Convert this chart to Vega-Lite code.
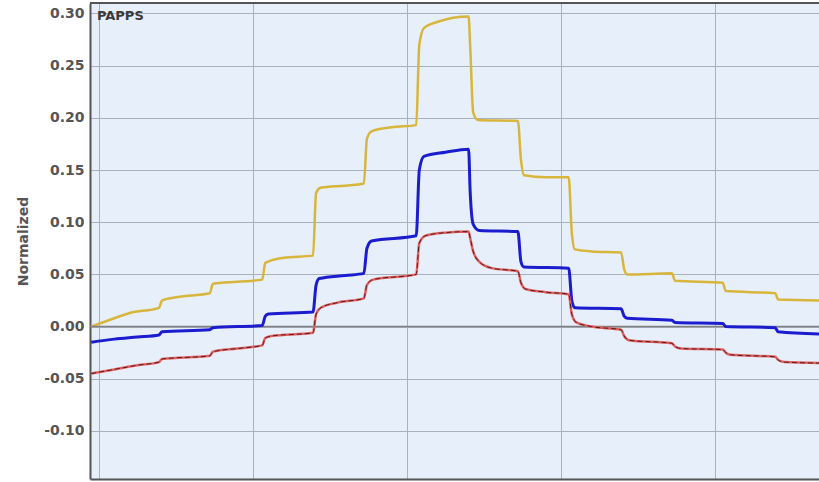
{
  "$schema": "https://vega.github.io/schema/vega-lite/v6.json",
  "autosize": "none",
  "width": 729,
  "height": 476,
  "padding": {"left": 90, "top": 3, "right": 0, "bottom": 3},
  "background": "white",
  "config": {
    "view": {"fill": "#e7effb", "stroke": null},
    "font": "DejaVu Sans"
  },
  "datasets": {
    "series": [
      {"s": "Y", "x": -5, "v": 0.0},
      {"s": "Y", "x": 10, "v": 0.008},
      {"s": "Y", "x": 20, "v": 0.013},
      {"s": "Y", "x": 39, "v": 0.018},
      {"s": "Y", "x": 41, "v": 0.025},
      {"s": "Y", "x": 55, "v": 0.029},
      {"s": "Y", "x": 72, "v": 0.032},
      {"s": "Y", "x": 74, "v": 0.041},
      {"s": "Y", "x": 90, "v": 0.043},
      {"s": "Y", "x": 106, "v": 0.045},
      {"s": "Y", "x": 108, "v": 0.061},
      {"s": "Y", "x": 120, "v": 0.066},
      {"s": "Y", "x": 139, "v": 0.068},
      {"s": "Y", "x": 141, "v": 0.128},
      {"s": "Y", "x": 144, "v": 0.133},
      {"s": "Y", "x": 160, "v": 0.135},
      {"s": "Y", "x": 172, "v": 0.137},
      {"s": "Y", "x": 174, "v": 0.18},
      {"s": "Y", "x": 177, "v": 0.187},
      {"s": "Y", "x": 190, "v": 0.191},
      {"s": "Y", "x": 206, "v": 0.193},
      {"s": "Y", "x": 208, "v": 0.27},
      {"s": "Y", "x": 211, "v": 0.286},
      {"s": "Y", "x": 220, "v": 0.292},
      {"s": "Y", "x": 240, "v": 0.297},
      {"s": "Y", "x": 241, "v": 0.27},
      {"s": "Y", "x": 243, "v": 0.205},
      {"s": "Y", "x": 246, "v": 0.198},
      {"s": "Y", "x": 272, "v": 0.197},
      {"s": "Y", "x": 274, "v": 0.16},
      {"s": "Y", "x": 276, "v": 0.145},
      {"s": "Y", "x": 290, "v": 0.143},
      {"s": "Y", "x": 305, "v": 0.143},
      {"s": "Y", "x": 307, "v": 0.09},
      {"s": "Y", "x": 309, "v": 0.074},
      {"s": "Y", "x": 320, "v": 0.072},
      {"s": "Y", "x": 339, "v": 0.071},
      {"s": "Y", "x": 341, "v": 0.055},
      {"s": "Y", "x": 343, "v": 0.05},
      {"s": "Y", "x": 372, "v": 0.051},
      {"s": "Y", "x": 374, "v": 0.044},
      {"s": "Y", "x": 405, "v": 0.042},
      {"s": "Y", "x": 407, "v": 0.034},
      {"s": "Y", "x": 439, "v": 0.032},
      {"s": "Y", "x": 441, "v": 0.026},
      {"s": "Y", "x": 468, "v": 0.025},

      {"s": "B", "x": -5, "v": -0.015},
      {"s": "B", "x": 10, "v": -0.012},
      {"s": "B", "x": 25, "v": -0.01},
      {"s": "B", "x": 39, "v": -0.008},
      {"s": "B", "x": 41, "v": -0.005},
      {"s": "B", "x": 72, "v": -0.003},
      {"s": "B", "x": 74, "v": -0.001},
      {"s": "B", "x": 106, "v": 0.001},
      {"s": "B", "x": 108, "v": 0.01},
      {"s": "B", "x": 110, "v": 0.012},
      {"s": "B", "x": 139, "v": 0.014},
      {"s": "B", "x": 141, "v": 0.04},
      {"s": "B", "x": 143, "v": 0.046},
      {"s": "B", "x": 160, "v": 0.049},
      {"s": "B", "x": 172, "v": 0.051},
      {"s": "B", "x": 174, "v": 0.075},
      {"s": "B", "x": 177, "v": 0.082},
      {"s": "B", "x": 206, "v": 0.087},
      {"s": "B", "x": 208, "v": 0.15},
      {"s": "B", "x": 211, "v": 0.163},
      {"s": "B", "x": 225, "v": 0.167},
      {"s": "B", "x": 240, "v": 0.17},
      {"s": "B", "x": 241, "v": 0.13},
      {"s": "B", "x": 243, "v": 0.098},
      {"s": "B", "x": 247, "v": 0.092},
      {"s": "B", "x": 272, "v": 0.091},
      {"s": "B", "x": 274, "v": 0.062},
      {"s": "B", "x": 276, "v": 0.057},
      {"s": "B", "x": 305, "v": 0.056},
      {"s": "B", "x": 307, "v": 0.025},
      {"s": "B", "x": 309, "v": 0.018},
      {"s": "B", "x": 339, "v": 0.017},
      {"s": "B", "x": 341, "v": 0.01},
      {"s": "B", "x": 343, "v": 0.008},
      {"s": "B", "x": 372, "v": 0.006},
      {"s": "B", "x": 374, "v": 0.004},
      {"s": "B", "x": 405, "v": 0.003},
      {"s": "B", "x": 407, "v": 0.0},
      {"s": "B", "x": 439, "v": -0.001},
      {"s": "B", "x": 441, "v": -0.005},
      {"s": "B", "x": 468, "v": -0.007},

      {"s": "R", "x": -5, "v": -0.045},
      {"s": "R", "x": 10, "v": -0.041},
      {"s": "R", "x": 25, "v": -0.037},
      {"s": "R", "x": 39, "v": -0.034},
      {"s": "R", "x": 41, "v": -0.031},
      {"s": "R", "x": 72, "v": -0.028},
      {"s": "R", "x": 74, "v": -0.024},
      {"s": "R", "x": 90, "v": -0.021},
      {"s": "R", "x": 106, "v": -0.018},
      {"s": "R", "x": 108, "v": -0.011},
      {"s": "R", "x": 112, "v": -0.009},
      {"s": "R", "x": 139, "v": -0.006},
      {"s": "R", "x": 141, "v": 0.012},
      {"s": "R", "x": 144, "v": 0.018},
      {"s": "R", "x": 155, "v": 0.023},
      {"s": "R", "x": 172, "v": 0.027},
      {"s": "R", "x": 174, "v": 0.04},
      {"s": "R", "x": 178, "v": 0.045},
      {"s": "R", "x": 206, "v": 0.05},
      {"s": "R", "x": 208, "v": 0.08},
      {"s": "R", "x": 212, "v": 0.087},
      {"s": "R", "x": 225, "v": 0.09},
      {"s": "R", "x": 240, "v": 0.091},
      {"s": "R", "x": 241, "v": 0.085},
      {"s": "R", "x": 243, "v": 0.072},
      {"s": "R", "x": 247, "v": 0.062},
      {"s": "R", "x": 255, "v": 0.056},
      {"s": "R", "x": 272, "v": 0.053},
      {"s": "R", "x": 274, "v": 0.042},
      {"s": "R", "x": 277, "v": 0.036},
      {"s": "R", "x": 290, "v": 0.033},
      {"s": "R", "x": 305, "v": 0.031},
      {"s": "R", "x": 307, "v": 0.012},
      {"s": "R", "x": 310, "v": 0.004},
      {"s": "R", "x": 320, "v": 0.0},
      {"s": "R", "x": 339, "v": -0.003},
      {"s": "R", "x": 341, "v": -0.009},
      {"s": "R", "x": 344, "v": -0.013},
      {"s": "R", "x": 372, "v": -0.016},
      {"s": "R", "x": 374, "v": -0.019},
      {"s": "R", "x": 378, "v": -0.021},
      {"s": "R", "x": 405, "v": -0.022},
      {"s": "R", "x": 407, "v": -0.025},
      {"s": "R", "x": 410, "v": -0.027},
      {"s": "R", "x": 439, "v": -0.029},
      {"s": "R", "x": 441, "v": -0.032},
      {"s": "R", "x": 445, "v": -0.034},
      {"s": "R", "x": 468, "v": -0.035}
    ],
    "refs": [
      {"v": 0, "kind": "zero"},
      {"v": 0.31, "kind": "top"}
    ],
    "labels": [
      {"x": -1.3, "v": 0.298, "label": "PAPPS"}
    ]
  },
  "layer": [
    {
      "data": {"name": "series"},
      "transform": [{"filter": "datum.s == 'Y'"}],
      "mark": {"type": "line", "color": "#d8b63c", "strokeWidth": 2.5, "interpolate": "monotone", "clip": true},
      "encoding": {
        "x": {"field": "x", "type": "quantitative", "scale": {"domain": [-5.8, 467.5], "nice": false, "zero": false},
          "axis": {"values": [0, 100, 200, 300, 400], "labels": false, "ticks": false, "title": null, "grid": true, "gridColor": "#a9b1bc", "gridWidth": 1, "domain": true, "domainColor": "#555555", "domainWidth": 2}},
        "y": {"field": "v", "type": "quantitative", "scale": {"domain": [-0.146, 0.31], "nice": false, "zero": false},
          "axis": {"values": [-0.1, -0.05, 0, 0.05, 0.1, 0.15, 0.2, 0.25, 0.3], "labelExpr": "replace(format(datum.value, '.2f'), '−', '-')", "ticks": false, "labelPadding": 6,
            "labelFont": "DejaVu Sans", "labelFontSize": 14, "labelFontWeight": "bold", "labelColor": "#555555",
            "title": "Normalized", "titleFont": "DejaVu Sans", "titleFontSize": 14, "titleFontWeight": "bold", "titleColor": "#555555", "titlePadding": 13,
            "grid": true, "gridColor": "#a9b1bc", "gridWidth": 1, "domain": true, "domainColor": "#555555", "domainWidth": 2}}
      }
    },
    {
      "data": {"name": "refs"},
      "transform": [{"filter": "datum.kind == 'zero'"}],
      "mark": {"type": "rule", "color": "#808080", "strokeWidth": 1.5},
      "encoding": {
        "y": {"field": "v", "type": "quantitative"}
      }
    },
    {
      "data": {"name": "series"},
      "transform": [{"filter": "datum.s == 'B'"}],
      "mark": {"type": "line", "color": "#1c1ccf", "strokeWidth": 3, "interpolate": "monotone", "clip": true},
      "encoding": {
        "x": {"field": "x", "type": "quantitative"},
        "y": {"field": "v", "type": "quantitative"}
      }
    },
    {
      "data": {"name": "series"},
      "transform": [{"filter": "datum.s == 'R'"}],
      "mark": {"type": "line", "color": "#e06060", "strokeWidth": 2.5, "interpolate": "monotone", "clip": true},
      "encoding": {
        "x": {"field": "x", "type": "quantitative"},
        "y": {"field": "v", "type": "quantitative"}
      }
    },
    {
      "data": {"name": "series"},
      "transform": [{"filter": "datum.s == 'R'"}],
      "mark": {"type": "line", "color": "#5a1c1c", "strokeWidth": 1, "strokeDash": [5, 3], "interpolate": "monotone", "clip": true},
      "encoding": {
        "x": {"field": "x", "type": "quantitative"},
        "y": {"field": "v", "type": "quantitative"}
      }
    },
    {
      "data": {"name": "refs"},
      "transform": [{"filter": "datum.kind == 'top'"}],
      "mark": {"type": "rule", "color": "#555555", "strokeWidth": 2},
      "encoding": {
        "y": {"field": "v", "type": "quantitative"}
      }
    },
    {
      "data": {"name": "labels"},
      "mark": {"type": "text", "align": "left", "baseline": "middle", "font": "DejaVu Sans", "fontSize": 13, "fontWeight": "bold", "color": "#3a3a3a"},
      "encoding": {
        "x": {"field": "x", "type": "quantitative"},
        "y": {"field": "v", "type": "quantitative"},
        "text": {"field": "label"}
      }
    }
  ]
}
